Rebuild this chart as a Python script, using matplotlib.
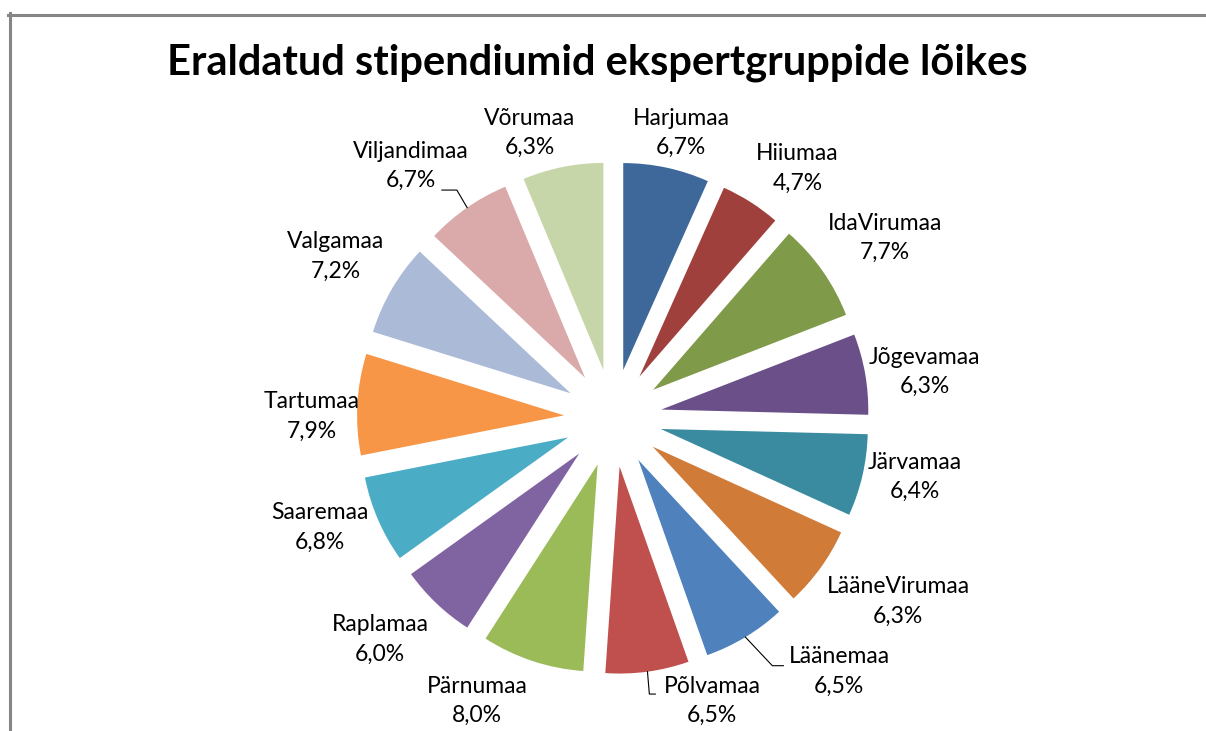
import math
import matplotlib
matplotlib.use("Agg")
import matplotlib.pyplot as plt
from matplotlib.lines import Line2D

# data
title = "Eraldatud stipendiumid ekspertgruppide lõikes"
counties = ["Harjumaa", "Hiiumaa", "IdaVirumaa", "Jõgevamaa", "Järvamaa",
            "LääneVirumaa", "Läänemaa", "Põlvamaa", "Pärnumaa", "Raplamaa",
            "Saaremaa", "Tartumaa", "Valgamaa", "Viljandimaa", "Võrumaa"]
shares = [6.7, 4.7, 7.7, 6.3, 6.4, 6.3, 6.5, 6.5, 8.0, 6.0, 6.8, 7.9, 7.2, 6.7, 6.3]
colors = ["#3D6899", "#A0403D", "#7F9A48", "#6A4F88", "#3A8BA0",
          "#D17B38", "#4F81BD", "#C0504D", "#9BBB59", "#8064A2",
          "#4BACC6", "#F79646", "#AABAD7", "#D9AAA9", "#C7D6A9"]

# label placement: (distance from centre in px, angle shift in degrees)
label_layout = [(293, 1.4), (310, 3.9), (326, 1.6), (315, 1.5), (308, -1.9),
                (339, -3.1), (340, -10.6), (300, -11.6), (314, 7.3), (321, 2.9),
                (313, 3.0), (301, -2.7), (321, 0.0), (323, -4.0), (297, -4.9)]
# leader lines: elbow and end point relative to label centre (px, y up)
leaders = {"Viljandimaa": ((46, -24), (31, -24)),
           "Läänemaa": ((-67, 6), (-56, 6)),
           "Põlvamaa": ((-63, 7), (-57, 7))}

W, H = 1206, 731
fig = plt.figure(figsize=(W / 100, H / 100), dpi=100)
ax = fig.add_axes([0, 0, 1, 1])

cx, cy = 613, H - 418
radius = 207
gap = 49

ax.pie(shares, colors=colors, startangle=90, counterclock=False,
       radius=radius, center=(cx, cy), explode=[gap] * len(shares),
       wedgeprops=dict(linewidth=0))
ax.set_xlim(0, W)
ax.set_ylim(0, H)
ax.set_aspect("equal")
ax.axis("off")

total = sum(shares)
cum = 0.0
for name, val, (dist, shift) in zip(counties, shares, label_layout):
    mid = (cum + val / 2) / total * 360
    cum += val
    a = math.radians(mid + shift)
    lx, ly = cx + dist * math.sin(a), cy + dist * math.cos(a)
    txt = name + "\n" + f"{val:.1f}".replace(".", ",") + "%"
    ax.text(lx, ly, txt, ha="center", va="center", fontsize=16.5,
            family="Lato", linespacing=1.5, color="black")
    if name in leaders:
        m = math.radians(mid)
        px = cx + (gap + radius) * math.sin(m)
        py = cy + (gap + radius) * math.cos(m)
        (ex, ey), (fx, fy) = leaders[name]
        ax.plot([px, lx + ex, lx + fx], [py, ly + ey, ly + fy],
                color="black", lw=0.8)

fig.text(597 / W, 1 - 63 / H, title, ha="center", va="center",
         fontsize=30, fontweight="bold", family="Lato")

# grey chart frame (top and left edges visible)
fig.add_artist(Line2D([8 / W, 1], [1 - 14.5 / H, 1 - 14.5 / H],
                      transform=fig.transFigure, color="#868686", lw=2.2))
fig.add_artist(Line2D([9.5 / W, 9.5 / W], [0, 1 - 13 / H],
                      transform=fig.transFigure, color="#868686", lw=2.2))

fig.savefig("out.png", dpi=100)
